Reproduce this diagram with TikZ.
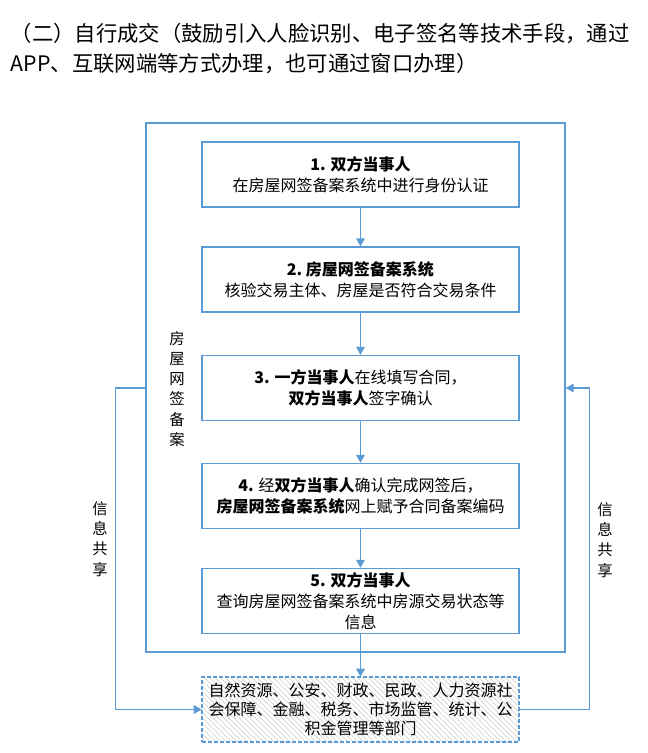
\documentclass[tikz,border=0pt]{standalone}
\usepackage{fontspec}
\setmainfont{Noto Sans CJK SC}
\usepackage{tikz}
\usetikzlibrary{positioning}
\usetikzlibrary{arrows.meta}
\usetikzlibrary{patterns.meta}
\definecolor{netblue}{RGB}{91,155,213}
\definecolor{hatchgray}{RGB}{200,200,200}
\tikzset{every picture/.style={line width=1.1pt},
stepbox/.style={draw=netblue,minimum width=237.75pt,minimum height=48.75pt,inner sep=0pt,align=center,font=\fontsize{12pt}{15.75pt}\selectfont},
deptbox/.style={stepbox,dash pattern=on 3pt off 1.5pt,pattern={Lines[angle=-45,distance=2.8pt,line width=0.4pt]},pattern color=hatchgray,font=\fontsize{12pt}{14.25pt}\selectfont},
frame/.style={draw=netblue,minimum width=314.25pt,minimum height=396.75pt,inner sep=0pt},
flow/.style={draw=netblue,-{Triangle[width=6.5pt,length=6pt]}},
vlabel/.style={align=center,inner sep=0pt,font=\fontsize{11.5pt}{15.2pt}\selectfont},
title/.style={inner sep=0pt,font=\fontsize{16pt}{22.5pt}\selectfont}}

\begin{document}
\begin{tikzpicture}[x=0.75pt,y=-0.75pt]
\useasboundingbox (0,0) rectangle (647,753);
\node[title,anchor=base west] (title1) at (10,41) {（二）自行成交（鼓励引入人脸识别、电子签名等技术手段，通过};
\node[title,anchor=base west] (title2) at (10,71) {APP、互联网端等方式办理，也可通过窗口办理）};
\node[frame] (frame) at (355.5,387.5) {};
\node[vlabel] (record) at (177,389) {房\\屋\\网\\签\\备\\案};
\node[stepbox] (s1) at (360.5,174.5) {\textbf{1. 双方当事人}\\在房屋网签备案系统中进行身份认证};
\node[stepbox] (s2) at (360.5,279.5) {\textbf{2.\ 房屋网签备案系统}\\核验交易主体、房屋是否符合交易条件};
\node[stepbox] (s3) at (360.5,388) {\textbf{3. 一方当事人}在线填写合同，\\\textbf{双方当事人}签字确认};
\node[stepbox] (s4) at (360.5,496) {\textbf{4.} 经\textbf{双方当事人}确认完成网签后，\\\textbf{房屋网签备案系统}网上赋予合同备案编码};
\node[stepbox] (s5) at (360.5,601) {\textbf{5. 双方当事人}\\查询房屋网签备案系统中房源交易状态等\\信息};
\node[deptbox] (dept) at (360.5,709.5) {自然资源、公安、财政、民政、人力资源社\\会保障、金融、税务、市场监管、统计、公\\积金管理等部门};
\draw[flow] (s1) -- (s2);
\draw[flow] (s2) -- (s3);
\draw[flow] (s3) -- (s4);
\draw[flow] (s4) -- (s5);
\draw[flow] (s5) -- (dept);
% information sharing
\draw[flow] (frame.west |- s3) -- ++(-30,0) |- (dept.west);
\draw[flow] (dept.east) -- ++(70,0) |- (frame.east |- s3);
\node[vlabel] (shareL) at (100,539) {信\\息\\共\\享};
\node[vlabel] (shareR) at (605,540) {信\\息\\共\\享};
\end{tikzpicture}
\end{document}
